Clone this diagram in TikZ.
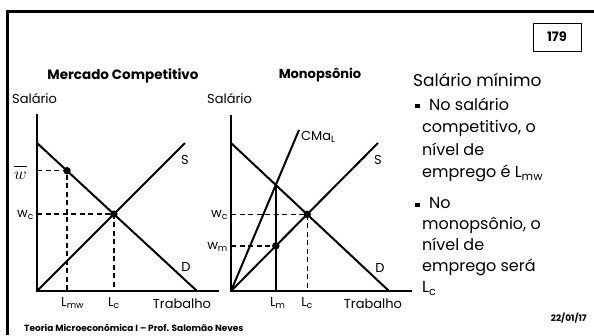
\documentclass[tikz,border=0pt]{standalone}
\usepackage{fontspec}
\setmainfont{Poppins}
\usetikzlibrary{positioning, calc}

\begin{document}
\begin{tikzpicture}[
    x=1pt, y=-1pt,
    font=\fontsize{13}{15}\selectfont,
    axis/.style={line width=2pt},
    curve/.style={line width=2pt},
    guide/.style={line width=1.3pt, dash pattern=on 5pt off 3.5pt},
    dot/.style={circle, fill, inner sep=0pt, minimum size=7.5pt},
    lbl/.style={inner sep=0pt},
    tick/.style={inner sep=0pt, anchor=north west, xshift=-6pt, yshift=-6pt},
    title/.style={font=\fontsize{13.5}{15}\selectfont\bfseries},
    body/.style={font=\fontsize{16}{22.5}\selectfont, align=left, anchor=north west, inner sep=0pt},
    bullet/.style={fill, inner sep=0pt, minimum size=4.5pt},
    foot/.style={font=\fontsize{9}{10}\selectfont\bfseries, inner sep=0pt}
]
\useasboundingbox (0,0) rectangle (594,335);

% Frame
\draw[line width=3pt] (7,335) -- (7,11) -- (594,11);
\node[draw, line width=1pt, minimum width=48pt, minimum height=28pt,
      font=\fontsize{13}{14}\selectfont\bfseries] (page) at (557,37) {179};

% Competitive market
\node[title] (title1) at (123,76) {Mercado Competitivo};
\node[lbl, anchor=west] (sal1) at (12,98) {Salário};

\coordinate (o1) at (37,291);
\coordinate (y1) at (37,114);
\coordinate (x1) at (219,291);
\coordinate (s1) at (185,143);
\coordinate (d1a) at (37,143);
\coordinate (d1b) at (197,291);
\coordinate (e1) at (intersection of o1--s1 and d1a--d1b);
\coordinate (m1) at ($(d1a)!0.1875!(d1b)$);
\coordinate (wbar) at (m1 -| o1);
\coordinate (lmw) at (m1 |- o1);
\coordinate (wc1) at (e1 -| o1);
\coordinate (lc1) at (e1 |- o1);

\draw[axis] (y1) -- (o1) -- (x1);
\draw[curve] (o1) -- (s1);
\draw[curve] (d1a) -- (d1b);
\draw[guide] (wbar) -- (m1) -- (lmw);
\draw[guide] (wc1) -- (e1) -- (lc1);
\node[dot] (pw) at (m1) {};
\node[dot] (pc1) at (e1) {};

\node[lbl, anchor=base east] (wbarlbl) at ($(wbar)+(-10,9)$) {\fontsize{17}{17}\selectfont$\overline{\vphantom{A}w}$};
\node[lbl, anchor=east] (wc1lbl) at ($(wc1)+(-3,1)$) {w\textsubscript{c}};
\node[tick] (lmwlbl) at (lmw) {L\textsubscript{mw}};
\node[tick] (lc1lbl) at (lc1) {L\textsubscript{c}};
\node[lbl] (trab1) at (182,304) {Trabalho};
\node[lbl] (slbl1) at (185,160) {S};
\node[lbl] (dlbl1) at (186,267) {D};

% Monopsony
\node[title, font=\fontsize{13}{15}\selectfont\bfseries] (title2) at (320,75) {Monopsônio};
\node[lbl, anchor=west] (sal2) at (207,98) {Salário};

\coordinate (o2) at (231,291);
\coordinate (y2) at (231,115);
\coordinate (x2) at (412,291);
\coordinate (s2) at (378,143);
\coordinate (d2a) at (231,143);
\coordinate (d2b) at (389,291);
\coordinate (c2) at (299,130);
\coordinate (a2) at (intersection of o2--c2 and d2a--d2b);
\coordinate (lm) at (a2 |- o2);
\coordinate (m2) at (intersection of o2--s2 and a2--lm);
\coordinate (e2) at (intersection of o2--s2 and d2a--d2b);
\coordinate (wm) at (m2 -| o2);
\coordinate (wc2) at (e2 -| o2);
\coordinate (lc2) at (e2 |- o2);

\draw[axis] (y2) -- (o2) -- (x2);
\draw[curve] (o2) -- (s2);
\draw[curve] (d2a) -- (d2b);
\draw[curve] (o2) -- (c2);
\draw[curve] (a2) -- (lm);
\draw[guide] (wm) -- (m2);
\draw[guide] (wc2) -- (e2) -- (lc2);
\node[dot] (pm) at (m2) {};
\node[dot] (pc2) at (e2) {};

\node[lbl, anchor=east] (wc2lbl) at ($(wc2)+(-3,1)$) {w\textsubscript{c}};
\node[lbl, anchor=east] (wmlbl) at ($(wm)+(-3,1)$) {w\textsubscript{m}};
\node[tick] (lmlbl) at (lm) {L\textsubscript{m}};
\node[tick] (lc2lbl) at (lc2) {L\textsubscript{c}};
\node[lbl] (trab2) at (373,304) {Trabalho};
\node[lbl] (slbl2) at (378,160) {S};
\node[lbl] (dlbl2) at (380,268) {D};
\node[lbl, anchor=west] (cmalbl) at (301,137) {CMa\textsubscript{L}};

% Text column
\node[lbl, anchor=west, font=\fontsize{17}{20}\selectfont] (head) at (413,80) {Salário mínimo};
\node[bullet] (b1) at (417.5,106) {};
\node[body] (txt1) at (422,97.5) {\hspace{7pt}No salário\\competitivo, o\\nível de\\emprego é L\textsubscript{mw}};
\node[bullet] (b2) at (417.5,205) {};
\node[body, font=\fontsize{16}{21}\selectfont] (txt2) at (422,197.5) {\hspace{7pt}No\\monopsônio, o\\nível de\\emprego será\\L\textsubscript{c}};

% Footer
\node[foot, anchor=west] (foot1) at (24,328) {Teoria Microeconômica I – Prof. Salomão Neves};
\node[foot, anchor=east] (date) at (587,318) {22/01/17};
\end{tikzpicture}
\end{document}
